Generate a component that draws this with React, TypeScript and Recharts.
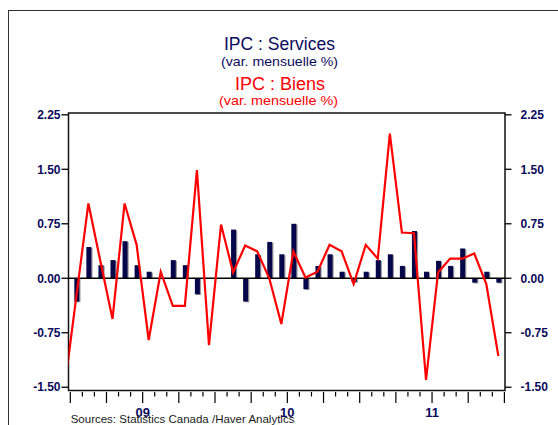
import React from 'react';
import { ComposedChart, Bar, Line, XAxis, YAxis, ReferenceLine, ReferenceArea } from 'recharts';

// Months (Dec 2008 only carries the goods line, which runs off the left edge)
const months: string[] = [
  '2008-12',
  '2009-01', '2009-02', '2009-03', '2009-04', '2009-05', '2009-06',
  '2009-07', '2009-08', '2009-09', '2009-10', '2009-11', '2009-12',
  '2010-01', '2010-02', '2010-03', '2010-04', '2010-05', '2010-06',
  '2010-07', '2010-08', '2010-09', '2010-10', '2010-11', '2010-12',
  '2011-01', '2011-02', '2011-03', '2011-04', '2011-05', '2011-06',
  '2011-07', '2011-08', '2011-09', '2011-10', '2011-11', '2011-12',
];

// IPC : Services (var. mensuelle %)
const services: (number | null)[] = [
  null,
  -0.32, 0.43, 0.18, 0.25, 0.51, 0.18, 0.09, 0.0, 0.25, 0.18, -0.22, 0.0,
  0.0, 0.67, -0.32, 0.33, 0.5, 0.33, 0.75, -0.15, 0.17, 0.33, 0.09, -0.05,
  0.09, 0.25, 0.33, 0.17, 0.65, 0.09, 0.24, 0.17, 0.41, -0.06, 0.09, -0.06,
];

// IPC : Biens (var. mensuelle %)
const goods: number[] = [
  -1.54,
  -0.25, 1.03, 0.23, -0.56, 1.03, 0.46, -0.85, 0.09, -0.38, -0.38, 1.49, -0.92,
  0.74, 0.08, 0.45, 0.37, 0.0, -0.63, 0.37, 0.01, 0.09, 0.46, 0.37, -0.08,
  0.46, 0.27, 1.99, 0.63, 0.62, -1.4, 0.08, 0.27, 0.27, 0.34, -0.08, -1.07,
];

const yTicks: number[] = [-1.5, -0.75, 0, 0.75, 1.5, 2.25];
const yearLabels: string[] = ['09', '10', '11'];

const NAVY = '#0b0b5c';
const BAR = '#06064a';
const RED = '#ff0000';
const FONT = '"Liberation Sans", Arial, Helvetica, sans-serif';

const X_MIN = -0.15;
const X_MAX = 36.05;
const Y_MIN = -1.545;
const Y_MAX = 2.275;

const data = months.map((m, i) => ({
  month: m,
  x: i - 0.5,
  services: services[i],
  goods: goods[i],
}));

const monthTicks = Array.from({ length: 37 }, (_, i) => i);

const XTick = (props: any) => {
  const { x, y, payload } = props;
  const v = payload.value as number;
  const major = v % 3 === 0;
  const yearIdx = (v - 6) / 12;
  const label = Number.isInteger(yearIdx) ? yearLabels[yearIdx] : undefined;
  return (
    <g>
      <line x1={x} x2={x} y1={y + 1.5} y2={y + (major ? 12.5 : 6)} stroke="#000" strokeWidth={1.2} />
      {label && (
        <text x={x} y={y + 26} textAnchor="middle" fill={NAVY} fontFamily={FONT} fontWeight="bold" fontSize={13}>
          {label}
        </text>
      )}
    </g>
  );
};

const BarShape = (props: any) => {
  const { x, y, width, height } = props;
  if (height === 0 || height == null) return <g />;
  const h = Math.abs(height);
  const top = height < 0 ? y + height : y;
  return (
    <g>
      <rect x={x + 1.2} y={top + 0.8} width={width} height={h} fill="#9a9a9a" />
      <rect x={x} y={top} width={width} height={h} fill={BAR} />
    </g>
  );
};

const yTickStyle = { fill: NAVY, fontSize: 12, fontWeight: 'bold', fontFamily: FONT } as any;

export default function App() {
  return (
    <div
      style={{
        position: 'absolute',
        left: 0,
        top: 0,
        width: 558,
        height: 425,
        background: '#fff',
        overflow: 'hidden',
      }}
    >
      <div
        style={{
          position: 'absolute',
          left: 7.5,
          top: 10,
          width: 700,
          height: 700,
          borderLeft: '1.5px solid #333',
          borderTop: '1.5px solid #333',
          boxSizing: 'border-box',
        }}
      />
      <div style={{ position: 'absolute', left: 0, top: 0 }}>
        <ComposedChart
          width={558}
          height={425}
          data={data}
          margin={{ top: 113, right: 0, bottom: 0, left: 0 }}
        >
          <XAxis
            dataKey="x"
            type="number"
            domain={[X_MIN, X_MAX]}
            allowDataOverflow
            ticks={monthTicks}
            interval={0}
            axisLine={false}
            tickLine={false}
            tickSize={0}
            tickMargin={0}
            height={34.5}
            tick={<XTick />}
          />
          <YAxis
            yAxisId="left"
            orientation="left"
            type="number"
            domain={[Y_MIN, Y_MAX]}
            allowDataOverflow
            ticks={yTicks}
            interval={0}
            width={68.5}
            axisLine={false}
            tickLine={{ stroke: '#000', strokeWidth: 1.3 }}
            tickSize={7}
            tickMargin={1}
            tick={yTickStyle}
            tickFormatter={(v: number) => v.toFixed(2)}
          />
          <YAxis
            yAxisId="right"
            orientation="right"
            type="number"
            domain={[Y_MIN, Y_MAX]}
            allowDataOverflow
            ticks={yTicks}
            interval={0}
            width={53}
            axisLine={false}
            tickLine={{ stroke: '#000', strokeWidth: 1.3 }}
            tickSize={6.5}
            tickMargin={9}
            tick={yTickStyle}
            tickFormatter={(v: number) => v.toFixed(2)}
          />
          <ReferenceLine yAxisId="left" y={0} stroke="#000" strokeWidth={1.3} />
          <Bar
            yAxisId="left"
            dataKey="services"
            barSize={5}
            isAnimationActive={false}
            shape={<BarShape />}
          />
          <Line
            yAxisId="left"
            dataKey="goods"
            type="linear"
            stroke={RED}
            strokeWidth={2.2}
            dot={false}
            activeDot={false}
            isAnimationActive={false}
          />
          <ReferenceArea
            yAxisId="left"
            x1={X_MIN}
            x2={X_MAX}
            y1={Y_MIN}
            y2={Y_MAX}
            fill="none"
            fillOpacity={0}
            stroke="#111"
            strokeWidth={1.5}
            ifOverflow="visible"
          />
        </ComposedChart>
      </div>
      <svg
        width={558}
        height={425}
        style={{ position: 'absolute', left: 0, top: 0, pointerEvents: 'none' }}
      >
        <text x={279.5} y={50} textAnchor="middle" fill={NAVY} fontFamily={FONT} fontSize={18} textLength={111} lengthAdjust="spacingAndGlyphs">
          IPC : Services
        </text>
        <text x={279.5} y={66} textAnchor="middle" fill={NAVY} fontFamily={FONT} fontSize={13.5} textLength={117} lengthAdjust="spacingAndGlyphs">
          (var. mensuelle %)
        </text>
        <text x={280} y={90} textAnchor="middle" fill={RED} fontFamily={FONT} fontSize={18} textLength={90} lengthAdjust="spacingAndGlyphs">
          IPC : Biens
        </text>
        <text x={278.5} y={105} textAnchor="middle" fill={RED} fontFamily={FONT} fontSize={13.5} textLength={119} lengthAdjust="spacingAndGlyphs">
          (var. mensuelle %)
        </text>
        <text x={70.7} y={422.5} fill="#1a1a1a" fontFamily={FONT} fontSize={11.5}>
          Sources:  Statistics Canada /Haver Analytics
        </text>
      </svg>
    </div>
  );
}
